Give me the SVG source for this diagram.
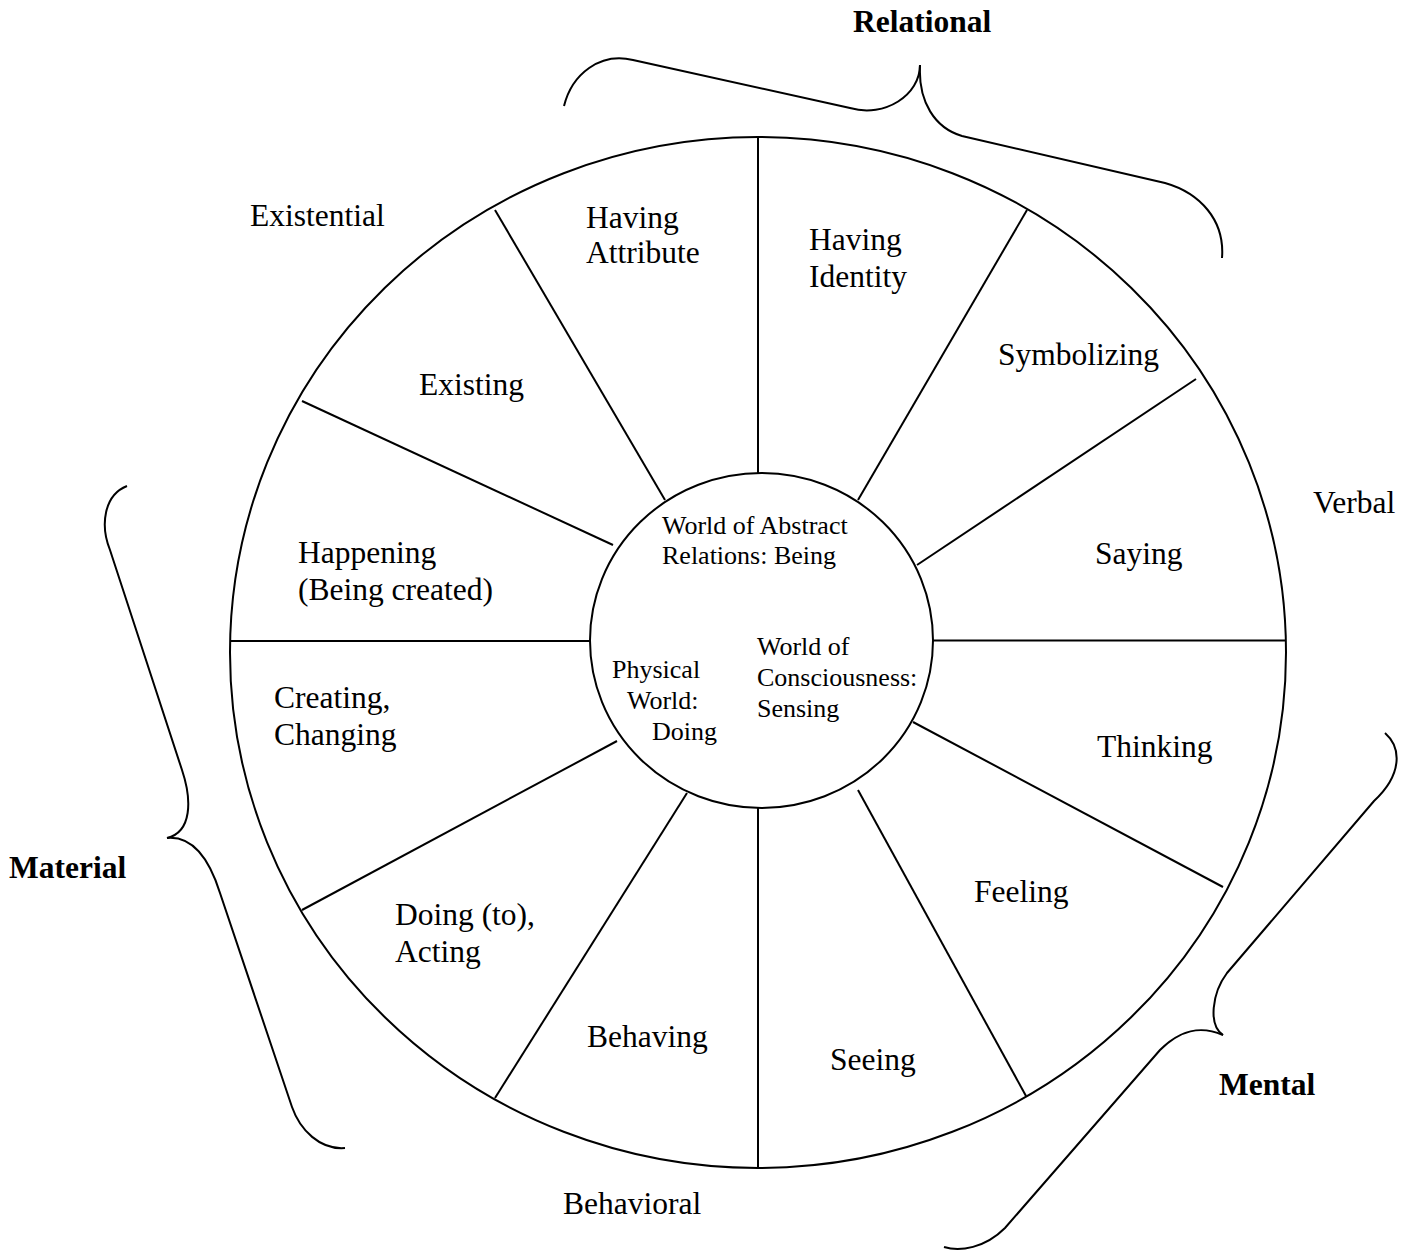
<svg xmlns="http://www.w3.org/2000/svg" width="1413" height="1252" viewBox="0 0 1413 1252">
<style>
.s{fill:none;stroke:#000;stroke-width:2}
.t{font-family:"Liberation Serif","Times New Roman",serif;font-size:31.5px;fill:#000}
.sm{font-family:"Liberation Serif","Times New Roman",serif;font-size:26px;fill:#000}
.b{font-family:"Liberation Serif","Times New Roman",serif;font-size:31.5px;font-weight:bold;fill:#000}
</style>
<rect width="1413" height="1252" fill="#fff"/>
<g id="wheel">
<ellipse class="s" cx="758" cy="652.5" rx="528" ry="515.5"/>
<ellipse class="s" cx="761.5" cy="640.5" rx="171.5" ry="167.5"/>
</g>
<g id="connectors" class="s">
<line x1="758" y1="137" x2="758" y2="473"/>
<line x1="858" y1="500" x2="1027" y2="210"/>
<line x1="917" y1="565" x2="1196" y2="379"/>
<line x1="933" y1="640.5" x2="1286" y2="640.5"/>
<line x1="913" y1="722" x2="1223" y2="887"/>
<line x1="858" y1="790" x2="1026" y2="1096"/>
<line x1="758" y1="808" x2="758" y2="1168"/>
<line x1="687" y1="793" x2="495" y2="1098"/>
<line x1="617" y1="741" x2="302" y2="910"/>
<line x1="230" y1="641" x2="590" y2="641"/>
<line x1="613" y1="545" x2="302" y2="401"/>
<line x1="665" y1="500" x2="495" y2="210"/>
</g>
<g id="braces" class="s">
<path id="brace-relational-left" d="M564,106 C572,74 600,52 633,60 L850,108 C885,118 920,95 920,65"/>
<path id="brace-relational-right" d="M920,65 C918,102 935,128 962,136 L1165,183 C1200,193 1225,220 1222,258"/>
<path id="brace-material-upper" d="M127,486 C104,495 100,525 110,550 L182,770 C192,800 192,832 167,838"/>
<path id="brace-material-lower" d="M167,838 C190,836 208,855 220,893 L292,1107 C300,1130 320,1150 345,1148"/>
<path id="brace-mental-upper" d="M1385,733 C1402,748 1402,775 1374,801 L1227,973 C1212,993 1208,1025 1223,1035"/>
<path id="brace-mental-lower" d="M1223,1035 C1200,1025 1180,1030 1160,1050 L1005,1228 C985,1248 960,1252 944,1247"/>
</g>
<g id="relational"><text class="b" x="853" y="32">Relational</text></g>
<g id="material"><text class="b" x="9" y="878">Material</text></g>
<g id="mental"><text class="b" x="1219" y="1095">Mental</text></g>
<g id="existential"><text class="t" x="250" y="226">Existential</text></g>
<g id="verbal"><text class="t" x="1313" y="513">Verbal</text></g>
<g id="behavioral"><text class="t" x="563" y="1214">Behavioral</text></g>
<g id="having-attribute"><text class="t" x="586" y="228">Having</text><text class="t" x="586" y="263">Attribute</text></g>
<g id="having-identity"><text class="t" x="809" y="250">Having</text><text class="t" x="809" y="287">Identity</text></g>
<g id="symbolizing"><text class="t" x="998" y="365">Symbolizing</text></g>
<g id="existing"><text class="t" x="419" y="395">Existing</text></g>
<g id="saying"><text class="t" x="1095" y="564">Saying</text></g>
<g id="happening"><text class="t" x="298" y="563">Happening</text><text class="t" x="298" y="600">(Being created)</text></g>
<g id="creating"><text class="t" x="274" y="708">Creating,</text><text class="t" x="274" y="745">Changing</text></g>
<g id="thinking"><text class="t" x="1097" y="757">Thinking</text></g>
<g id="feeling"><text class="t" x="974" y="902">Feeling</text></g>
<g id="doing-to"><text class="t" x="395" y="925">Doing (to),</text><text class="t" x="395" y="962">Acting</text></g>
<g id="behaving"><text class="t" x="587" y="1047">Behaving</text></g>
<g id="seeing"><text class="t" x="830" y="1070">Seeing</text></g>
<g id="abstract-relations"><text class="sm" x="662" y="534">World of Abstract</text><text class="sm" x="662" y="564">Relations: Being</text></g>
<g id="consciousness"><text class="sm" x="757" y="655">World of</text><text class="sm" x="757" y="686">Consciousness:</text><text class="sm" x="757" y="717">Sensing</text></g>
<g id="physical"><text class="sm" x="612" y="678">Physical</text><text class="sm" x="627" y="709">World:</text><text class="sm" x="652" y="740">Doing</text></g>
</svg>
